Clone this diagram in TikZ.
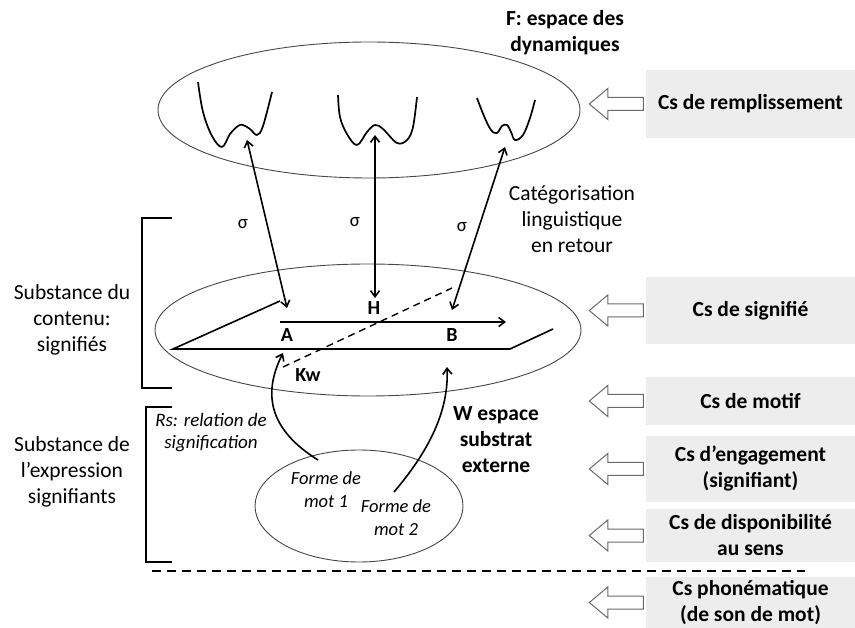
\documentclass[tikz,border=0pt]{standalone}
\usepackage{fontspec}
\setmainfont{Carlito}
\usetikzlibrary{positioning,shapes.geometric,shapes.arrows,arrows.meta}
\definecolor{boxgray}{RGB}{237,237,237}
\definecolor{arrowgray}{RGB}{105,105,105}
\definecolor{linegray}{RGB}{70,70,70}

\begin{document}
\begin{tikzpicture}[x=1pt, y=-1pt,
	txt/.style={font=\fontsize{21.5}{26}\selectfont, align=center, inner sep=0pt},
	btxt/.style={txt, font=\bfseries\fontsize{21.5}{26}\selectfont},
	itxt/.style={txt, font=\itshape\fontsize{18.5}{23}\selectfont},
	lettre/.style={txt, font=\bfseries\fontsize{20}{24}\selectfont},
	space/.style={ellipse, draw=linegray, line width=0.9pt, inner sep=0pt},
	csbox/.style={btxt, fill=boxgray, minimum width=209pt},
	hollow/.style={single arrow, shape border rotate=180, draw=arrowgray, fill=white, line width=1pt, inner xsep=0pt, inner ysep=6pt, minimum height=54pt, minimum width=30pt, single arrow head extend=9pt, single arrow tip angle=80},
	well/.style={line width=1.7pt, line join=round},
	sigarrow/.style={line width=1.6pt, {Straight Barb[length=6pt,width=9pt]}-{Straight Barb[length=6pt,width=9pt]}},
	curarrow/.style={line width=1.6pt, -{Straight Barb[length=6pt,width=9pt]}}
	]
	\useasboundingbox (0,0) rectangle (855,628);

	\node[space, minimum width=422pt, minimum height=136pt] (F) at (369,110) {};
	\node[space, minimum width=426pt, minimum height=132pt] (sig) at (368,330) {};
	\node[space, minimum width=208pt, minimum height=112pt] (mots) at (359,506) {};

	\node[btxt] (titre) at (565,33) {F: espace des\\dynamiques};
	\node[txt] (categ) at (572,219) {Catégorisation\\linguistique\\en retour};
	\node[txt] (contenu) at (72,320) {Substance du\\contenu:\\signifiés};
	\node[txt] (expr) at (72,472) {Substance de\\l’expression\\signifiants};
	\node[itxt, font=\itshape\fontsize{19}{22}\selectfont] (rs) at (211,433) {Rs: relation de\\signification};
	\node[btxt] (wesp) at (496,440) {W espace\\substrat\\externe};
	\node[itxt] (forme1) at (326,490) {Forme de\\mot 1};
	\node[itxt] (forme2) at (396,518) {Forme de\\mot 2};

	\draw[well] plot[smooth, tension=0.6] coordinates {(198,82) (203,112) (212,136) (222,147) (230,134) (238,126) (243,125) (250,129) (257,135) (263,126) (272,92)};
	\draw[well] plot[smooth, tension=0.6] coordinates {(338,95) (340,117) (347,134) (357,145) (367,132) (375,125) (383,129) (397,143) (407,140) (413,127) (417,97)};
	\draw[well] plot[smooth, tension=0.6] coordinates {(477,98) (484,116) (491,130) (497,133) (502,126) (507,125) (511,132) (515,140) (523,135) (530,118) (535,100)};

	\coordinate (wa) at (247,140);
	\coordinate (wh) at (375,135);
	\coordinate (wb) at (505,147);
	\coordinate (pa) at (287,308);
	\coordinate (ph) at (375,298);
	\coordinate (pb) at (452,310);

	\path[sigarrow] (wa) edge (pa);
	\path[sigarrow] (wh) edge (ph);
	\path[sigarrow] (wb) edge (pb);
	\node[txt, font=\fontsize{19}{22}\selectfont] (s1) at (243,224) {σ};
	\node[txt, font=\fontsize{19}{22}\selectfont] (s2) at (355,222) {σ};
	\node[txt, font=\fontsize{19}{22}\selectfont] (s3) at (462,227) {σ};

	\coordinate (p1) at (173,349);
	\coordinate (p2) at (280,301);
	\coordinate (p3) at (510,349);
	\coordinate (p4) at (553,329);
	\draw[line width=1.6pt] (p2) -- (p1) -- (p3) -- (p4);

	\coordinate (a0) at (280,322);
	\coordinate (b0) at (506,322);
	\draw[curarrow] (a0) -- (b0);
	\coordinate (k1) at (283,367);
	\coordinate (k2) at (452,288);
	\draw[line width=1.4pt, dash pattern=on 7pt off 5pt] (k1) -- (k2);

	\node[lettre] (H) at (374,308) {H};
	\node[lettre] (A) at (287,335) {A};
	\node[lettre] (B) at (452,335) {B};
	\node[lettre] (Kw) at (308,375) {Kw};

	\coordinate (m1) at (318,460);
	\coordinate (m2) at (394,492);
	\coordinate (ka) at (283,353);
	\coordinate (kb) at (447,367);
	\draw[curarrow] (m1) .. controls (270,430) and (262,395) .. (ka);
	\draw[curarrow] (m2) .. controls (428,452) and (449,412) .. (kb);

	\draw[line width=1.6pt] (172,218) -- (142,218) -- (142,388) -- (172,388);
	\draw[line width=1.6pt] (172,407) -- (146,407) -- (146,562) -- (172,562);
	\draw[line width=1.5pt, dash pattern=on 9pt off 6pt] (152,571) -- (805,571);

	\node[csbox, minimum height=68pt] (remp) at (750.5,104) {Cs de remplissement};
	\node[csbox, minimum height=67pt] (signif) at (750.5,310.5) {Cs de signifié};
	\node[csbox, minimum height=48pt] (motif) at (750.5,401) {Cs de motif};
	\node[csbox, minimum height=66pt] (engag) at (750.5,469) {Cs d’engagement\\(signifiant)};
	\node[csbox, minimum height=53pt] (dispo) at (750.5,535.5) {Cs de disponibilité\\au sens};
	\node[csbox, minimum height=51pt] (phon) at (750.5,602.5) {Cs phonématique\\(de son de mot)};

	\node[hollow, left=2pt of remp] (fl1) {};
	\node[hollow, left=2pt of signif] (fl2) {};
	\node[hollow, left=2pt of motif] (fl3) {};
	\node[hollow, left=2pt of engag] (fl4) {};
	\node[hollow, left=2pt of dispo] (fl5) {};
	\node[hollow, left=2pt of phon] (fl6) {};

\end{tikzpicture}
\end{document}
